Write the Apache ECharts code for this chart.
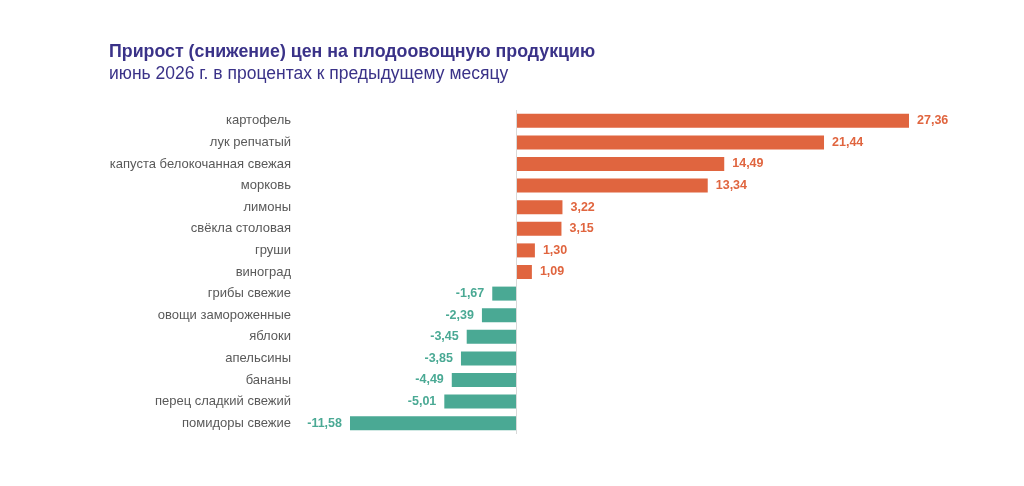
<!DOCTYPE html>
<html>
<head>
<meta charset="utf-8">
<script src="https://cdn.jsdelivr.net/npm/echarts@6/dist/echarts.min.js"></script>
<style>
  html, body { margin: 0; padding: 0; background: #fff; }
  #chart { width: 1024px; height: 486px; }
</style>
</head>
<body>
<div id="chart"></div>
<script>
const categories = [
  'картофель', 'лук репчатый', 'капуста белокочанная свежая', 'морковь',
  'лимоны', 'свёкла столовая', 'груши', 'виноград', 'грибы свежие',
  'овощи замороженные', 'яблоки', 'апельсины', 'бананы',
  'перец сладкий свежий', 'помидоры свежие'
];
const values = [27.36, 21.44, 14.49, 13.34, 3.22, 3.15, 1.30, 1.09,
  -1.67, -2.39, -3.45, -3.85, -4.49, -5.01, -11.58];

const upColor = '#e0653f';
const downColor = '#4aa994';

const chart = echarts.init(document.getElementById('chart'));

const items = values.map(v => {
  const c = v >= 0 ? upColor : downColor;
  return {
    value: v,
    itemStyle: { color: c },
    label: { color: c, position: v >= 0 ? 'right' : 'left' }
  };
});

chart.setOption({
  animation: false,
  title: {
    text: 'Прирост (снижение) цен на плодоовощную продукцию',
    subtext: 'июнь 2026 г. в процентах к предыдущему месяцу',
    left: 104,
    top: 38,
    itemGap: 4,
    textStyle: { fontFamily: 'Arial', fontSize: 17.8, fontWeight: 'bold', color: '#3a3288' },
    subtextStyle: { fontFamily: 'Arial', fontSize: 17.5, color: '#3a3288' }
  },
  grid: { left: 350, top: 110, width: 559, height: 324 },
  xAxis: {
    type: 'value',
    min: -11.58,
    max: 27.36,
    show: false
  },
  yAxis: {
    type: 'category',
    inverse: true,
    data: categories,
    axisLine: { show: false },
    axisTick: { show: false },
    axisLabel: {
      margin: 59,
      fontFamily: 'Arial',
      fontSize: 13,
      color: '#595959'
    }
  },
  series: [{
    type: 'bar',
    barWidth: 14,
    data: items,
    label: {
      show: true,
      distance: 8,
      fontFamily: 'Arial',
      fontSize: 12.5,
      fontWeight: 'bold',
      formatter: p => p.value.toFixed(2).replace('.', ',')
    },
    markLine: {
      silent: true,
      symbol: 'none',
      label: { show: false },
      lineStyle: { color: '#d9d9d9', type: 'solid', width: 1 },
      data: [{ xAxis: 0 }]
    }
  }]
});
</script>
</body>
</html>
